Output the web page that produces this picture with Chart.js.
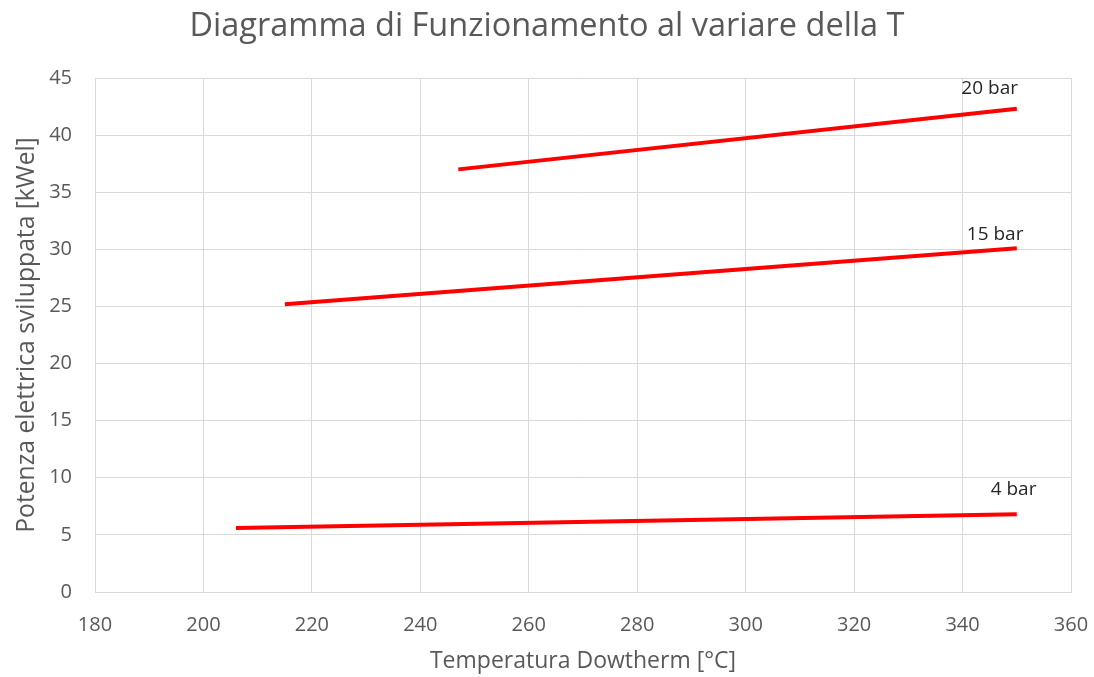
<!DOCTYPE html>
<html>
<head>
<meta charset="utf-8">
<script src="https://cdn.jsdelivr.net/npm/chart.js@4.4.1/dist/chart.umd.min.js"></script>
<style>
  html, body { margin: 0; padding: 0; background: #fff; }
  #wrap { width: 1094px; height: 677px; }
</style>
</head>
<body>
<div id="wrap"><canvas id="chart" width="1094" height="677"></canvas></div>
<script>
// Temperatura Dowtherm [°C] vs potenza elettrica [kWel]
const seriesNames = ['4 bar', '15 bar', '20 bar'];
const temps4 = [206, 350];
const power4 = [5.6, 6.8];
const temps15 = [215, 350];
const power15 = [25.2, 30.1];
const temps20 = [247, 350];
const power20 = [37.0, 42.3];
// label anchor (data coords) for each series name
const labelX = [349.4, 346, 345];
const labelY = [9.0, 31.3, 44.1];

const FONT = "'Open Sans', 'Liberation Sans', sans-serif";
const GREY = '#595959';

function pts(xs, ys) {
  return xs.map((x, i) => ({ x: x, y: ys[i] }));
}

// draws the "N bar" text next to each line
const seriesLabels = {
  id: 'seriesLabels',
  afterDatasetsDraw(chart) {
    const ctx = chart.ctx;
    const xs = chart.scales.x, ys = chart.scales.y;
    ctx.save();
    ctx.font = "19px " + FONT;
    ctx.fillStyle = '#262626';
    ctx.textAlign = 'center';
    ctx.textBaseline = 'middle';
    seriesNames.forEach((name, i) => {
      ctx.fillText(name, xs.getPixelForValue(labelX[i]), ys.getPixelForValue(labelY[i]));
    });
    ctx.restore();
  }
};

const lineStyle = {
  borderColor: '#ff0000',
  borderWidth: 4,
  pointRadius: 0,
  fill: false,
  tension: 0
};

new Chart(document.getElementById('chart'), {
  type: 'scatter',
  data: {
    datasets: [
      { label: seriesNames[0], data: pts(temps4, power4), showLine: true, ...lineStyle },
      { label: seriesNames[1], data: pts(temps15, power15), showLine: true, ...lineStyle },
      { label: seriesNames[2], data: pts(temps20, power20), showLine: true, ...lineStyle }
    ]
  },
  options: {
    responsive: false,
    animation: false,
    layout: { padding: 0 },
    scales: {
      x: {
        type: 'linear',
        min: 180,
        max: 360,
        ticks: { stepSize: 20, color: GREY, font: { family: FONT, size: 20 }, padding: 21 },
        grid: { color: '#d9d9d9', drawTicks: false },
        border: { color: '#d9d9d9' },
        title: { display: true, text: 'Temperatura Dowtherm [°C]', color: GREY, font: { family: FONT, size: 23 }, padding: { top: 0, bottom: 2 } },
        afterFit: (s) => { s.height = 85; s.paddingLeft = 0; s.paddingRight = 23; }
      },
      y: {
        min: 0,
        max: 45,
        ticks: { stepSize: 5, color: GREY, font: { family: FONT, size: 20 }, padding: 23 },
        grid: { color: '#d9d9d9', drawTicks: false },
        border: { color: '#d9d9d9' },
        title: { display: true, text: 'Potenza elettrica sviluppata [kWel]', color: GREY, font: { family: FONT, size: 24.7 }, padding: { top: 12, bottom: 0 } },
        afterFit: (s) => { s.width = 95; }
      }
    },
    plugins: {
      legend: { display: false },
      tooltip: { enabled: false },
      title: {
        display: true,
        text: 'Diagramma di Funzionamento al variare della T',
        color: GREY,
        font: { family: FONT, size: 32.5, weight: 'normal' },
        padding: { top: 7, bottom: 32 }
      }
    }
  },
  plugins: [seriesLabels]
});
</script>
</body>
</html>
